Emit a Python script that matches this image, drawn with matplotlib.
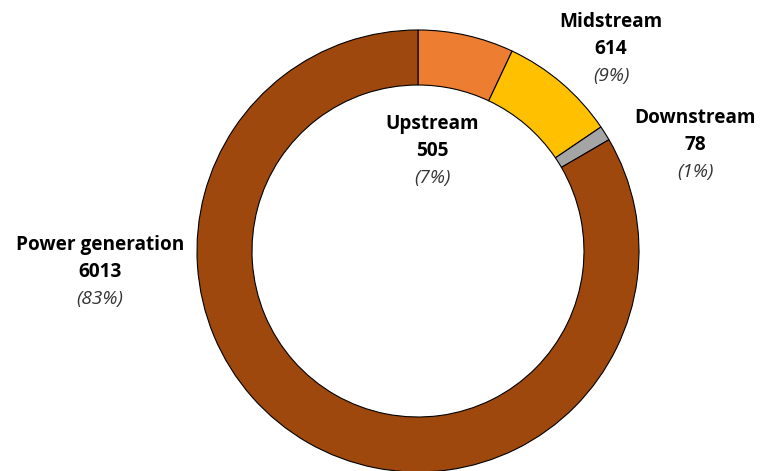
import matplotlib.pyplot as plt

## data
segments = ['Upstream', 'Midstream', 'Downstream', 'Power generation']
values = [505, 614, 78, 6013]
shares = ['7%', '9%', '1%', '83%']
colors = ['#ED7D31', '#FFC000', '#A5A5A5', '#9E480E']

# label positions in pixels from top-left
label_pos = [(432, 124), (611, 22), (695, 118), (100, 245)]

W, H = 760, 471
fig = plt.figure(figsize=(W / 100, H / 100), dpi=100)
ax = fig.add_axes([0, 0, 1, 1])
ax.set_xlim(0, W)
ax.set_ylim(0, H)
ax.set_aspect('equal')
ax.axis('off')

ax.pie(values, colors=colors, startangle=90, counterclock=False,
       center=(418, H - 251), radius=221,
       wedgeprops=dict(width=55, edgecolor='black', linewidth=0.8))
ax.set_xlim(0, W)
ax.set_ylim(0, H)

font = 'Open Sans'
for name, val, pct, (x, y) in zip(segments, values, shares, label_pos):
    ax.text(x, H - y, name, ha='center', va='center', fontsize=13.7,
            fontweight='bold', family=font, color='black')
    ax.text(x, H - y - 27, str(val), ha='center', va='center', fontsize=13.7,
            fontweight='bold', family=font, color='black')
    ax.text(x, H - y - 54, f'({pct})', ha='center', va='center', fontsize=13.7,
            style='italic', family=font, color='#333333')

fig.savefig('out.png', dpi=100)
